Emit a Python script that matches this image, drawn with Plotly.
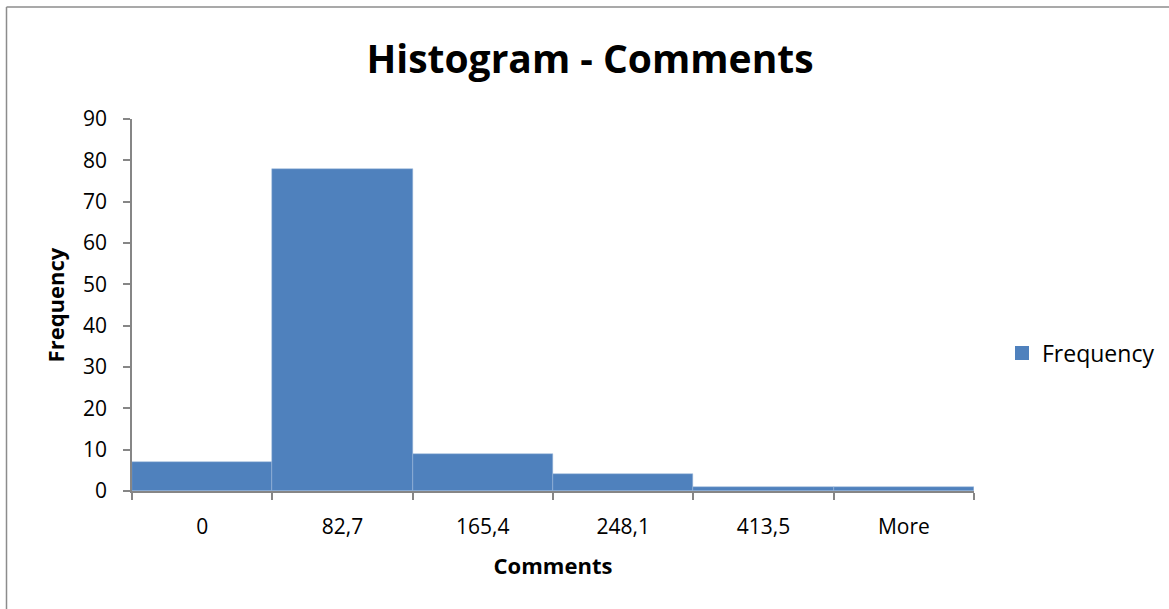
import plotly.graph_objects as go

categories = ["0", "82,7", "165,4", "248,1", "413,5", "More"]
frequency = [7, 78, 9, 4, 1, 1]

BAR = "#4F81BD"
AXIS = "#868686"
FONT = "Open Sans"

W, H = 1169, 609
L, R, T, B = 132, 1169 - 974, 119, 609 - 491
pw, ph = W - L - R, H - T - B

def px(x):
    return (x - L) / pw

def py(y):
    return (H - B - y) / ph

fig = go.Figure()
fig.add_trace(go.Bar(
    x=categories, y=frequency, name="Frequency",
    marker=dict(color=BAR, line=dict(color="#9DB8DC", width=0.5)),
    showlegend=False,
))
# legend entry with a larger square swatch
fig.add_trace(go.Scatter(
    x=[None], y=[None], mode="markers", name="Frequency",
    marker=dict(symbol="square", size=14, color=BAR),
    showlegend=True,
))

fig.update_layout(
    width=W, height=H,
    margin=dict(l=L, r=R, t=T, b=B, autoexpand=False),
    paper_bgcolor="white", plot_bgcolor="white",
    bargap=0,
    font=dict(family=FONT, color="#000000", size=21),
    title=dict(text="<b>Histogram - Comments</b>", x=px(590), xanchor="center",
               xref="paper", y=1 - 59 / H, yanchor="middle",
               font=dict(size=39, family=FONT)),
    showlegend=True,
    legend=dict(x=px(1002), y=py(353), xanchor="left", yanchor="middle",
                font=dict(size=23), itemwidth=30, bgcolor="rgba(0,0,0,0)"),
    xaxis=dict(
        type="category", range=[-0.5, 5.5],
        showline=True, linecolor=AXIS, linewidth=1.5,
        ticks="outside", tickson="boundaries", ticklen=7, tickcolor=AXIS, tickwidth=1.5,
        ticklabelstandoff=16,
        showgrid=False, zeroline=False,
        title=dict(text="<b>Comments</b>", font=dict(size=22), standoff=20),
    ),
    yaxis=dict(
        range=[0, 90], dtick=10, tick0=0,
        showline=True, linecolor=AXIS, linewidth=1.5,
        ticks="outside", ticklen=7, tickcolor=AXIS, tickwidth=1.5,
        ticklabelstandoff=12,
        showgrid=False, zeroline=False,
        title=dict(text="<b>Frequency</b>", font=dict(size=22), standoff=12),
    ),
    shapes=[
        dict(type="line", xref="paper", yref="paper", x0=px(6.5), x1=px(6.5),
             y0=py(700), y1=py(7), line=dict(color="#8C8C8C", width=1.5)),
        dict(type="line", xref="paper", yref="paper", x0=px(6.5), x1=px(1300),
             y0=py(7), y1=py(7), line=dict(color="#8C8C8C", width=1.5)),
    ],
)

fig.write_html("out.html")
